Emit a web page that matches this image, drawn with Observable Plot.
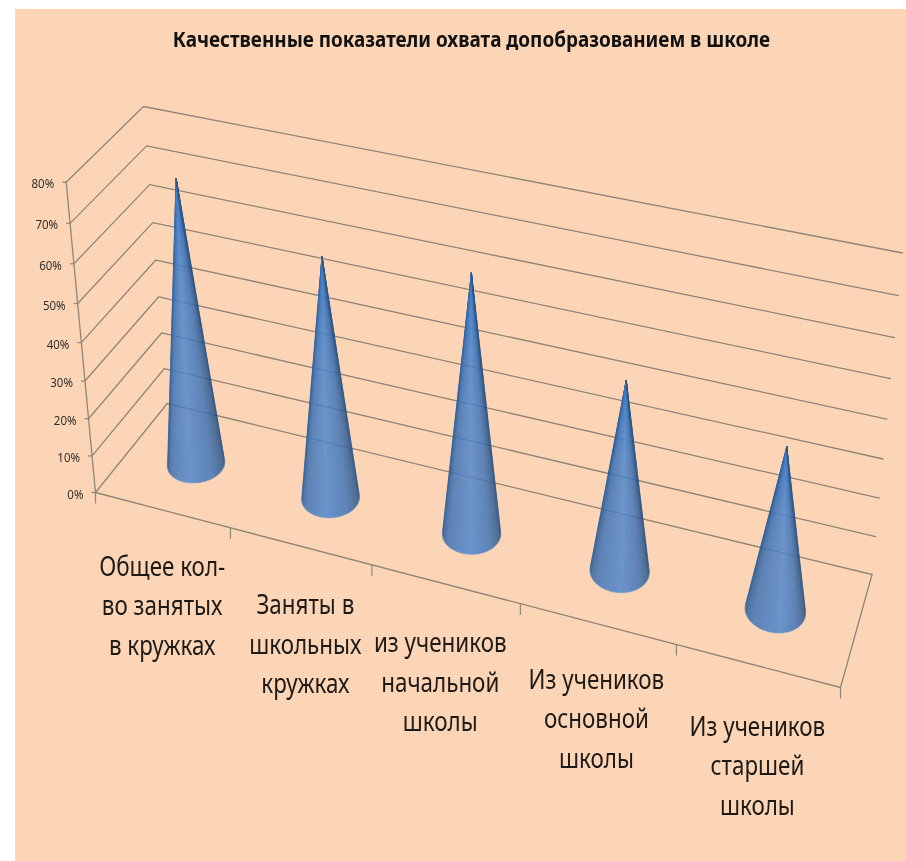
<!DOCTYPE html>
<html>
<head>
<meta charset="utf-8">
<script src="https://cdn.jsdelivr.net/npm/d3@7"></script>
<script src="https://cdn.jsdelivr.net/npm/@observablehq/plot@0.6"></script>
<style>
html,body{margin:0;padding:0;background:#fff;}
#panel{position:absolute;left:15px;top:9px;width:891px;height:852px;background:#fcd5b6;}
#chart{position:absolute;left:0;top:0;width:906px;height:861px;}
#chart svg{filter:blur(0.45px);}
</style>
</head>
<body>
<div id="panel"></div>
<div id="chart"></div>
<script>
const chartTitle = "Качественные показатели охвата допобразованием в школе";
const categories = ["Общее кол-\nво занятых\nв кружках","Заняты в\nшкольных\nкружках","из учеников\nначальной\nшколы","Из учеников\nосновной\nшколы","Из учеников\nстаршей\nшколы"];
const values = [75, 63, 66.5, 48.5, 41];
const valueTicks = [0,10,20,30,40,50,60,70,80];
const tickLabels = ["0%","10%","20%","30%","40%","50%","60%","70%","80%"];
const labelNudgeX = [0,5,-5,-1,0];
const labelNudgeY = [1,3,3,0,5];

// The chart's 3D box, as its eight corners appear on the picture (projection parameters)
const box = {
  f0l:[95,492], f1l:[65.7,181.7], b0l:[166.7,403], b1l:[143,106],
  f0r:[840,687], f1r:[868,342],   b0r:[871.5,574], b1r:[902,252.5]
};
const warpU = u => u/(1+0.13*(1-u));
const warpW = w => w/(1+0.07*(1-w));
const maxV = 80;
const lerp = (a,b,t) => a+(b-a)*t;
function corner(u,v,w){ // u, v, w already warped
  return [0,1].map(k => {
    const f0 = lerp(box.f0l[k],box.f0r[k],u), f1 = lerp(box.f1l[k],box.f1r[k],u);
    const b0 = lerp(box.b0l[k],box.b0r[k],u), b1 = lerp(box.b1l[k],box.b1r[k],u);
    return lerp(lerp(f0,b0,v),lerp(f1,b1,v),w);
  });
}
const project = (u,v,val) => corner(warpU(u),v,warpW(val/maxV));

// Condensing text: the reference's face is narrower than any installed font
const squeeze = sx => (index,scales,values,dims,ctx,next) => {
  const g = next(index,scales,values,dims,ctx);
  g.querySelectorAll("text").forEach(t => {
    t.setAttribute("transform",(t.getAttribute("transform")||"")+` scale(${sx},1)`);
  });
  return g;
};

// ---- grid ----
const gridPts = [];
valueTicks.forEach(t => {
  [[0,0],[0,1],[1,1]].forEach(([u,v]) => {
    const [x,y] = project(u,v,t);
    gridPts.push({x,y,z:"g"+t});
  });
});
const floorPts = [[0,0],[1,0],[1,1]].map(([u,v]) => { const [x,y]=project(u,v,0); return {x,y,z:"floor"}; });
const axisPts = [project(0,0,maxV),project(0,0,0)].map(([x,y]) => ({x,y,z:"axis"}));
const catTicks = d3.range(0,categories.length+1).map(i => {
  const [x,y] = project(i/categories.length,0,0);
  return {x,y};
});
const valTicks = valueTicks.map((t,i) => {
  const [x,y] = project(0,0,t);
  return {x,y,label:tickLabels[i]};
});

// ---- cones, as fans of thin slices shaded across the visible base ----
const ru = 0.0345, rv = 0.192, cv = 0.5;
const ramp = (t,peak) => {
  const darkL = "#2f5f98", mid = "#3e73b7", hi = "#5089cf", darkR = "#2c5686";
  if (t<peak) {
    const s=t/peak;
    return s<0.22 ? d3.interpolateRgb(darkL,mid)(s/0.22) : d3.interpolateRgb(mid,hi)((s-0.22)/0.78);
  }
  const s=(t-peak)/(1-peak);
  return s<0.65 ? d3.interpolateRgb(hi,mid)(s/0.65) : d3.interpolateRgb(mid,darkR)((s-0.65)/0.35);
};
const slices = [], rims = [];
values.forEach((val,i) => {
  const uc = warpU((i+0.5)/values.length);
  const apex = corner(uc,cv,warpW(val/maxV));
  const r = ru*(1+0.2*uc);
  const circle = d3.range(0,240).map(k => {
    const a=k/240*2*Math.PI;
    return corner(uc+r*Math.cos(a),cv+rv*Math.sin(a),0);
  });
  const hull = d3.polygonHull([apex,...circle]);
  const at = hull.findIndex(p => p===apex);
  const arc = [...hull.slice(at+1),...hull.slice(0,at)];
  const xs = arc.map(p=>p[0]), x0=d3.min(xs), x1=d3.max(xs);
  const peak = 0.38+0.22*uc;
  for (let k=0;k<arc.length-1;k++){
    const t=((arc[k][0]+arc[k+1][0])/2-x0)/(x1-x0);
    const c=ramp(t,peak), z=`c${i}s${k}`;
    [apex,arc[k],arc[k+1]].forEach(([x,y]) => slices.push({x,y,z,c}));
  }
  arc.forEach(([x,y]) => rims.push({x,y,z:"r"+i}));
});

// ---- category labels ----
const labelRows = categories.map((c,i) => {
  const [x,y] = project((i+0.5)/categories.length,0,0);
  return {x:x+labelNudgeX[i],y:y+labelNudgeY[i],c};
});

const lineColor = "#8f8678";
const font = "'Noto Sans',sans-serif";
let chart;
try {
chart = Plot.plot({
  width:906, height:861, margin:0,
  style:{background:"transparent"},
  color:{type:"identity"},
  x:{type:"linear",domain:[0,906],range:[0,906],axis:null},
  y:{type:"linear",domain:[0,861],range:[0,861],axis:null},
  marks:[
    Plot.line(gridPts,{x:"x",y:"y",z:"z",stroke:lineColor,strokeWidth:1.3}),
    Plot.line(floorPts,{x:"x",y:"y",z:"z",stroke:lineColor,strokeWidth:1.3}),
    Plot.line(axisPts,{x:"x",y:"y",z:"z",stroke:lineColor,strokeWidth:1.3}),
    Plot.link(catTicks,{x1:"x",y1:"y",x2:"x",y2:d=>d.y+11,stroke:lineColor,strokeWidth:1.2}),
    Plot.link(valTicks,{x1:d=>d.x-4,y1:"y",x2:"x",y2:"y",stroke:lineColor,strokeWidth:1.2}),
    Plot.text(valTicks,{x:"x",y:"y",text:"label",textAnchor:"end",dx:-12,dy:2,fontSize:12.5,
      fontFamily:font,fill:"#33302c",render:squeeze(0.92)}),
    Plot.line(slices,{x:"x",y:"y",z:"z",fill:"c",stroke:"c",strokeWidth:0.2}),
    Plot.line(rims,{x:"x",y:"y",z:"z",stroke:"#c3d2e2",strokeWidth:0.6,strokeOpacity:0.45}),
    Plot.text(labelRows,{x:"x",y:"y",text:"c",textAnchor:"middle",lineAnchor:"top",dy:37,
      fontSize:28,lineHeight:1.41,fontFamily:font,fill:"#1d1a18",render:squeeze(0.8)}),
    Plot.text([chartTitle],{x:()=>471,y:()=>39,text:d=>d,textAnchor:"middle",fontSize:22,fontWeight:"bold",
      fontFamily:font,fill:"#111",render:squeeze(0.86)})
  ]
});
document.getElementById("chart").appendChild(chart);
} catch(e) {
  document.getElementById("chart").textContent = "ERR " + e.message;
}
</script>
</body>
</html>
